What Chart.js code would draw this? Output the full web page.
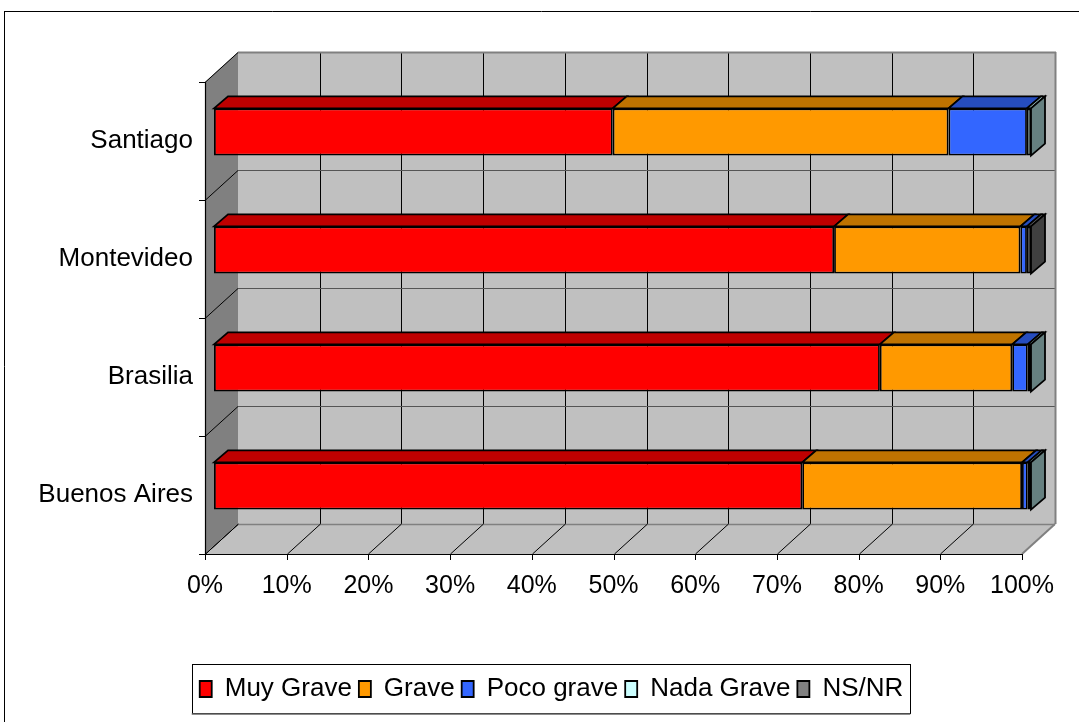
<!DOCTYPE html>
<html>
<head>
<meta charset="utf-8">
<script src="https://cdn.jsdelivr.net/npm/chart.js@4.4.0/dist/chart.umd.min.js"></script>
<style>
html, body { margin: 0; padding: 0; background: #fff; }
</style>
</head>
<body>
<canvas id="chartCities" width="1079" height="722"></canvas>
<script>
// data (percent of answers per city)
var cities = ["Santiago", "Montevideo", "Brasilia", "Buenos Aires"];
var muyGrave = [48.8, 75.9, 81.5, 72.0];
var grave = [41.1, 22.8, 16.2, 26.9];
var pocoGrave = [9.6, 0.8, 1.9, 0.7];
var nadaGrave = [0.5, 0, 0.4, 0.4];
var nsNr = [0, 0.5, 0, 0];
var xTickLabels = ["0%", "10%", "20%", "30%", "40%", "50%", "60%", "70%", "80%", "90%", "100%"];

var FONT = "'Liberation Sans', Arial, sans-serif";

// 3d look: bars sit a bit behind the front plane
var FRONT_DX = -9, FRONT_DY = 9;
var WALL_DX = 33, WALL_DY = -30;
var BAR_DX = 14, BAR_DY = -12;

function shade(hex, f) {
    var n = parseInt(hex.slice(1), 16);
    var r = Math.round(((n >> 16) & 255) * f);
    var g = Math.round(((n >> 8) & 255) * f);
    var b = Math.round((n & 255) * f);
    return "rgb(" + r + "," + g + "," + b + ")";
}

function poly(ctx, pts, fill, stroke, lw) {
    ctx.beginPath();
    ctx.moveTo(pts[0][0], pts[0][1]);
    for (var i = 1; i < pts.length; i++) ctx.lineTo(pts[i][0], pts[i][1]);
    ctx.closePath();
    if (fill) { ctx.fillStyle = fill; ctx.fill(); }
    if (stroke) { ctx.strokeStyle = stroke; ctx.lineWidth = lw || 1; ctx.stroke(); }
}

function line(ctx, x1, y1, x2, y2, color, lw) {
    ctx.beginPath();
    ctx.moveTo(x1, y1);
    ctx.lineTo(x2, y2);
    ctx.strokeStyle = color;
    ctx.lineWidth = lw || 1;
    ctx.stroke();
}

var walls3d = {
    id: "walls3d",
    afterLayout: function (chart) {
        // legend sits a little right of the canvas centre
        var lg = chart.legend;
        var dx = chart.width / 2 + 12 - (lg.left + lg.right) / 2;
        lg.left += dx;
        lg.right += dx;
    },
    beforeDatasetsDraw: function (chart) {
        var ctx = chart.ctx, xs = chart.scales.x, a = chart.chartArea;
        var n = chart.data.labels.length;
        var x0 = xs.getPixelForValue(0) + FRONT_DX, x1 = xs.getPixelForValue(100) + FRONT_DX;
        var y0 = a.top + FRONT_DY, y1 = a.bottom + FRONT_DY;
        var band = (a.bottom - a.top) / n;
        ctx.save();

        // outer frame
        line(ctx, 4.5, 11, 4.5, 722, "#000", 1);
        line(ctx, 4, 11.5, 1079, 11.5, "#000", 1);

        // back wall
        poly(ctx, [[x0 + WALL_DX, y0 + WALL_DY], [x1 + WALL_DX, y0 + WALL_DY],
            [x1 + WALL_DX, y1 + WALL_DY], [x0 + WALL_DX, y1 + WALL_DY]], "#c0c0c0");
        // left wall
        poly(ctx, [[x0, y0], [x0 + WALL_DX, y0 + WALL_DY], [x0 + WALL_DX, y1 + WALL_DY], [x0, y1]], "#808080");
        // floor
        poly(ctx, [[x0, y1], [x0 + WALL_DX, y1 + WALL_DY], [x1 + WALL_DX, y1 + WALL_DY], [x1, y1]], "#c0c0c0");

        // back wall grid
        for (var v = 10; v < 100; v += 10) {
            var px = Math.round(xs.getPixelForValue(v) + FRONT_DX + WALL_DX) + 0.5;
            line(ctx, px, y0 + WALL_DY, px, y1 + WALL_DY, "#000", 1);
        }
        for (var k = 1; k < n; k++) {
            var py = Math.round(y0 + band * k + WALL_DY) + 0.5;
            line(ctx, x0 + WALL_DX, py, x1 + WALL_DX, py, "#555", 1);
        }
        // back wall edges
        line(ctx, x0 + WALL_DX, y0 + WALL_DY + 0.5, x1 + WALL_DX + 1, y0 + WALL_DY + 0.5, "#808080", 2);
        line(ctx, x1 + WALL_DX + 0.5, y0 + WALL_DY, x1 + WALL_DX + 0.5, y1 + WALL_DY, "#808080", 2);
        line(ctx, x0 + WALL_DX, y1 + WALL_DY + 0.5, x1 + WALL_DX, y1 + WALL_DY + 0.5, "#808080", 1.5);
        line(ctx, x1, y1, x1 + WALL_DX, y1 + WALL_DY, "#808080", 2);

        // floor diagonals and x ticks
        for (var t = 0; t <= 100; t += 10) {
            var fx = Math.round(xs.getPixelForValue(t) + FRONT_DX) + 0.5;
            if (t < 100) line(ctx, fx, y1, fx + WALL_DX, y1 + WALL_DY, "#000", 1);
            line(ctx, fx, y1, fx, y1 + 6, "#000", 1);
        }
        // left wall diagonals and y ticks
        for (var j = 0; j <= n; j++) {
            var fy = Math.round(y0 + band * j) + 0.5;
            line(ctx, x0, fy, x0 + WALL_DX, fy + WALL_DY, "#000", 1);
            line(ctx, x0 - 6, fy, x0, fy, "#000", 1);
        }
        // axis lines
        line(ctx, Math.round(x0) + 0.5, y0, Math.round(x0) + 0.5, y1 + 1, "#000", 1.2);
        line(ctx, x0, Math.round(y1) + 0.5, x1 + 1, Math.round(y1) + 0.5, "#000", 1.2);
        ctx.restore();
    },
    afterDatasetsDraw: function (chart) {
        var ctx = chart.ctx;
        ctx.save();
        ctx.lineJoin = "miter";
        for (var i = 0; i < chart.data.labels.length; i++) {
            var last = null;
            chart.data.datasets.forEach(function (ds, d) {
                if (!ds.data[i]) return;
                var el = chart.getDatasetMeta(d).data[i];
                var l = Math.min(el.base, el.x), r = Math.max(el.base, el.x);
                var top = el.y - el.height / 2;
                poly(ctx, [[l, top], [l + BAR_DX, top + BAR_DY], [r + BAR_DX, top + BAR_DY], [r, top]],
                    shade(ds.backgroundColor, 0.75), "#000", 1.8);
                last = { r: r, t: top, b: el.y + el.height / 2, c: ds.backgroundColor };
            });
            if (last) {
                poly(ctx, [[last.r, last.t], [last.r + BAR_DX, last.t + BAR_DY],
                    [last.r + BAR_DX, last.b + BAR_DY], [last.r, last.b]], shade(last.c, 0.5), "#000", 1.8);
            }
        }
        ctx.restore();
    },
    afterDraw: function (chart) {
        var ctx = chart.ctx, lg = chart.legend;
        if (!lg || !lg.legendHitBoxes.length) return;
        var hb = lg.legendHitBoxes;
        var minL = hb[0].left, maxR = hb[hb.length - 1].left + hb[hb.length - 1].width;
        var cy = hb[0].top + hb[0].height / 2;
        var top = Math.round(cy - 25) + 0.5, bottom = Math.round(cy + 24) + 0.5;
        ctx.save();
        ctx.strokeStyle = "#000";
        ctx.lineWidth = 1;
        ctx.strokeRect(Math.round(minL - 8) + 0.5, top, Math.round(maxR - minL + 14), bottom - top);
        line(ctx, minL - 8, bottom + 0.5, maxR + 7, bottom + 0.5, "#666", 1.5);
        ctx.restore();
    }
};

function barSet(label, values, color) {
    return {
        label: label,
        data: values,
        backgroundColor: color,
        borderColor: "#000",
        borderWidth: 1.8,
        borderSkipped: false,
        barPercentage: 0.4,
        categoryPercentage: 1,
    };
}

var ctxCities = document.getElementById("chartCities").getContext("2d");
var chartCities = new Chart(ctxCities, {
    type: "bar",
    data: {
        labels: cities,
        datasets: [
            barSet("Muy Grave", muyGrave, "#ff0000"),
            barSet("Grave", grave, "#ff9900"),
            barSet("Poco grave", pocoGrave, "#3366ff"),
            barSet("Nada Grave", nadaGrave, "#ccffff"),
            barSet("NS/NR", nsNr, "#808080"),
        ],
    },
    options: {
        indexAxis: "y",
        responsive: false,
        animation: false,
        devicePixelRatio: 1,
        layout: { padding: { top: 73, left: 10, right: 48, bottom: 10 } },
        scales: {
            x: {
                stacked: true,
                min: 0,
                max: 100,
                grid: { display: false, drawTicks: false },
                border: { display: false },
                ticks: {
                    stepSize: 10,
                    autoSkip: false,
                    maxRotation: 0,
                    labelOffset: FRONT_DX,
                    padding: 26,
                    color: "#000",
                    font: { family: FONT, size: 25 },
                    callback: function (v, i) { return xTickLabels[i]; },
                },
                afterFit: function (s) {
                    s.height = 124;
                    s.paddingLeft = 0;
                    s.paddingRight = 0;
                },
            },
            y: {
                stacked: true,
                grid: { display: false, drawTicks: false },
                border: { display: false },
                ticks: {
                    labelOffset: FRONT_DY,
                    padding: 21,
                    color: "#000",
                    font: { family: FONT, size: 26 },
                },
                afterFit: function (s) { s.width = 204; },
            },
        },
        plugins: {
            legend: {
                position: "bottom",
                labels: {
                    boxWidth: 12,
                    boxHeight: 16,
                    padding: 7,
                    color: "#000",
                    font: { family: FONT, size: 26 },
                },
            },
            tooltip: { enabled: false },
        },
    },
    plugins: [walls3d],
});
</script>
</body>
</html>
